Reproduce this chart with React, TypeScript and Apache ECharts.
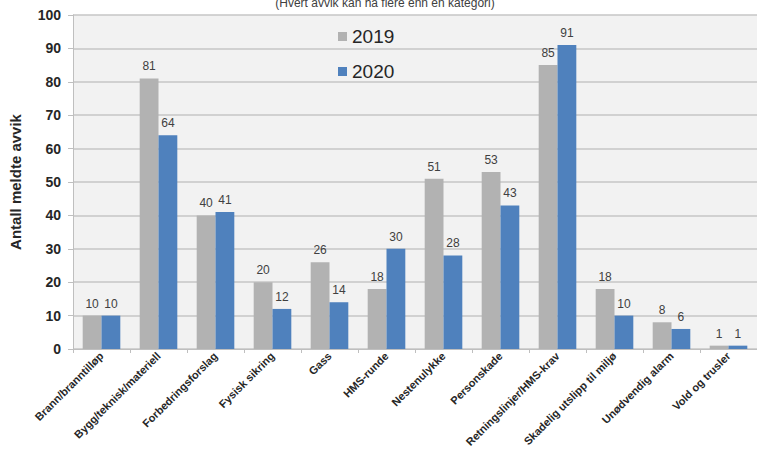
import React, { useEffect, useRef } from "react";
import * as echarts from "echarts";

const categories = [
  "Brann/branntilløp",
  "Bygg/teknisk/materiell",
  "Forbedringsforslag",
  "Fysisk sikring",
  "Gass",
  "HMS-runde",
  "Nestenulykke",
  "Personskade",
  "Retningslinjer/HMS-krav",
  "Skadelig utslipp til miljø",
  "Unødvendig alarm",
  "Vold og trusler",
];
const values2019 = [10, 81, 40, 20, 26, 18, 51, 53, 85, 18, 8, 1];
const values2020 = [10, 64, 41, 12, 14, 30, 28, 43, 91, 10, 6, 1];
const subtitle = "(Hvert avvik kan ha flere enn en kategori)";
const yName = "Antall meldte avvik";

const FONT = "'Liberation Sans', Arial, sans-serif";

export default function App() {
  const ref = useRef<HTMLDivElement>(null);
  useEffect(() => {
    if (!ref.current) return;
    const chart = echarts.init(ref.current, undefined, { renderer: "svg" });
    chart.setOption({
      animation: false,
      backgroundColor: "#ffffff",
      textStyle: { fontFamily: FONT },
      title: {
        text: subtitle,
        left: 380,
        textAlign: "center",
        top: -8,
        textStyle: { fontSize: 12, fontWeight: "normal", color: "#404040", fontFamily: FONT },
      },
      legend: {
        orient: "vertical",
        left: 333,
        top: 22,
        itemWidth: 9,
        itemHeight: 9,
        itemGap: 16,
        icon: "rect",
        textStyle: { fontSize: 19, color: "#262626", fontFamily: FONT },
        data: ["2019", "2020"],
      },
      grid: { left: 72, top: 15, bottom: 113, width: 694, containLabel: false, show: true, backgroundColor: "#f2f2f2", borderWidth: 0 },
      xAxis: {
        type: "category",
        data: categories,
        axisLine: { lineStyle: { color: "#bfbfbf", width: 1 } },
        axisTick: { show: true, length: 4, lineStyle: { color: "#bfbfbf" } },
        axisLabel: {
          rotate: 45,
          interval: 0,
          fontSize: 11,
          fontWeight: "bold",
          color: "#262626",
          margin: 5,
          fontFamily: FONT,
        },
      },
      yAxis: {
        type: "value",
        min: 0,
        max: 100,
        interval: 10,
        name: yName,
        nameLocation: "middle",
        nameGap: 50,
        nameTextStyle: { fontSize: 15, fontWeight: "bold", color: "#262626", fontFamily: FONT },
        axisLine: { show: true, lineStyle: { color: "#bfbfbf", width: 1 } },
        axisTick: { show: true, length: 5, lineStyle: { color: "#bfbfbf" } },
        axisLabel: { fontSize: 14, fontWeight: "bold", color: "#262626", margin: 12, fontFamily: FONT },
        splitLine: { show: true, lineStyle: { color: "#c6c6c6", width: 1.5 } },
      },
      series: [
        {
          name: "2019",
          type: "bar",
          data: values2019,
          barGap: "0%",
          barCategoryGap: "34%",
          itemStyle: { color: "#b2b2b2" },
          label: { show: true, position: "top", fontSize: 12, color: "#404040", distance: 6, fontFamily: FONT },
        },
        {
          name: "2020",
          type: "bar",
          data: values2020,
          itemStyle: { color: "#4f81bd" },
          label: { show: true, position: "top", fontSize: 12, color: "#404040", distance: 6, fontFamily: FONT },
        },
      ],
    });
    return () => chart.dispose();
  }, []);
  return <div ref={ref} style={{ width: 757, height: 462, position: "absolute", left: 0, top: 0 }} />;
}
